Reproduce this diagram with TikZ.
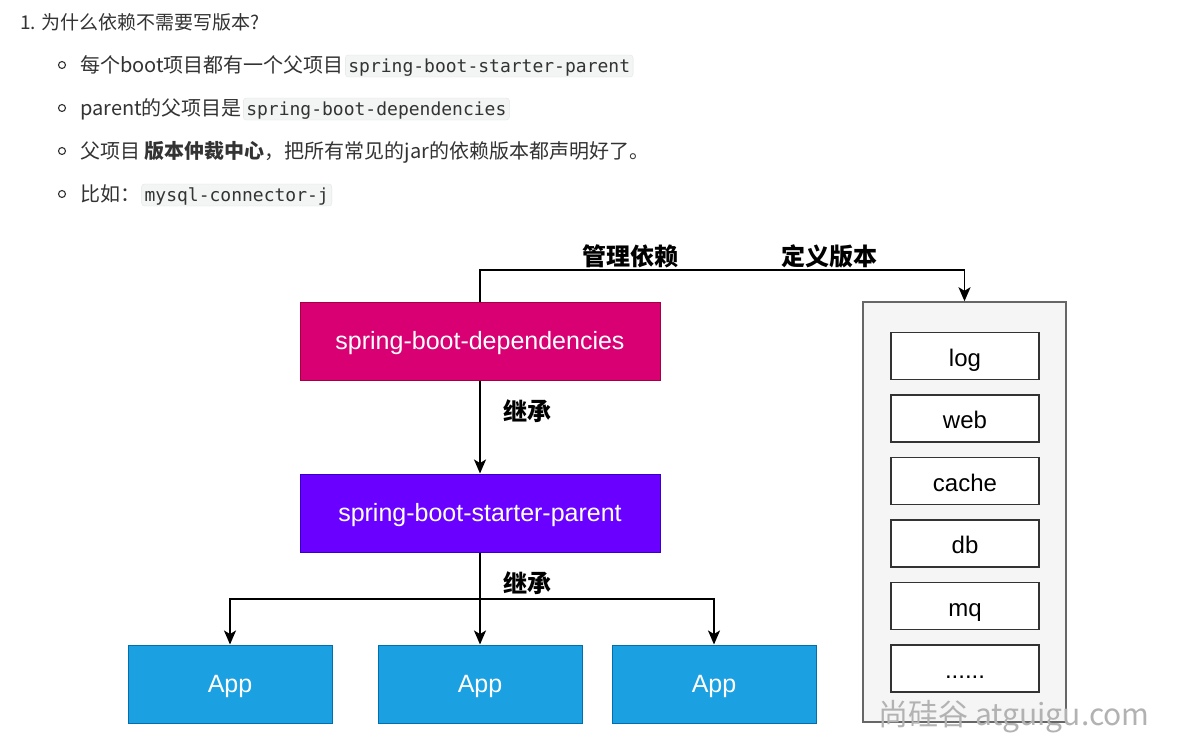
\documentclass[tikz,border=0pt]{standalone}
\usepackage{fontspec}
\usetikzlibrary{arrows.meta,calc}
\setmainfont{Liberation Sans}
\newfontfamily\cjk{Noto Sans CJK SC}
\newfontfamily\codefont{DejaVu Sans Mono}
\definecolor{txt}{HTML}{333333}
\definecolor{codebg}{HTML}{F3F4F4}
\definecolor{codeln}{HTML}{E3E6E8}
\definecolor{depc}{HTML}{D80073}
\definecolor{depl}{HTML}{A50040}
\definecolor{parc}{HTML}{6A00FF}
\definecolor{parl}{HTML}{3700CC}
\definecolor{appc}{HTML}{1BA1E2}
\definecolor{appl}{HTML}{006EAF}
\definecolor{ctrc}{HTML}{F5F5F5}
\definecolor{ctrl}{HTML}{666666}
\tikzset{
  listtxt/.style={anchor=base west, inner sep=0pt, text=txt, font=\cjk\fontsize{20}{24}\selectfont},
  code/.style={anchor=base west, fill=codebg, draw=codeln, rounded corners=3pt, inner xsep=3pt, inner ysep=2pt, text height=15pt, text depth=3pt, font=\codefont\fontsize{18}{22}\selectfont, text=txt},
  bul/.style={circle, draw=txt, line width=1.1pt, minimum size=7pt, inner sep=0pt},
  boxtext/.style={inner sep=0pt, text height=18pt, text depth=2pt, font=\fontsize{25}{29}\selectfont},
  bigbox/.style={boxtext, minimum width=360pt, minimum height=78pt, text=white, line width=1pt},
  appbox/.style={boxtext, minimum width=204pt, minimum height=78pt, text=white, fill=appc, draw=appl, line width=1pt},
  itembox/.style={boxtext, text height=20pt, text depth=0pt, minimum width=148pt, minimum height=47pt, fill=white, draw=black!80, line width=1.5pt, font=\fontsize{24}{28}\selectfont},
  lbl/.style={font=\cjk\bfseries\fontsize{24}{28}\selectfont, inner sep=0pt},
  arr/.style={line width=1.5pt, -{Stealth[length=14pt,width=12pt,inset=3.5pt]}},
  ln/.style={line width=1.5pt}
}
\begin{document}
\begin{tikzpicture}[x=1pt,y=-1pt]
\useasboundingbox[fill=white] (0,0) rectangle (1203,755);
% list
\node[listtxt, font=\cjk\fontsize{19}{23}\selectfont] (h1) at (20,29) {1. 为什么依赖不需要写版本?};
\node[bul] (b1) at (62,65) {};
\node[bul] (b2) at (62,108) {};
\node[bul] (b3) at (62,151) {};
\node[bul] (b4) at (62,194) {};
\node[listtxt] (t1) at (80,72) {每个boot项目都有一个父项目};
\node[code] (c1) at ($(t1.base east)+(1,0)$) {spring-boot-starter-parent};
\node[listtxt] (t2) at (80,115) {parent的父项目是};
\node[code] (c2) at ($(t2.base east)+(1,0)$) {spring-boot-dependencies};
\node[listtxt] (t3) at (80,158) {父项目 {\bfseries 版本仲裁中心}，把所有常见的jar的依赖版本都声明好了。};
\node[listtxt] (t4) at (80,201) {比如：};
\node[code] (c4) at ($(t4.base east)+(1,0)$) {mysql-connector-j};
% diagram
\node[bigbox, fill=depc, draw=depl] (dep) at (480,341) {spring-boot-dependencies};
\node[bigbox, fill=parc, draw=parl] (par) at (480,513) {spring-boot-starter-parent};
\node[appbox] (app1) at (230,684) {App};
\node[appbox] (app2) at (480,684) {App};
\node[appbox] (app3) at (714,684) {App};
\node[minimum width=203pt, minimum height=420pt, inner sep=0pt, fill=ctrc, draw=ctrl, line width=1.5pt] (ctr) at (964.5,512) {};
\node[itembox] (i1) at (965,356) {log};
\node[itembox] (i2) at (965,418.5) {web};
\node[itembox] (i3) at (965,481) {cache};
\node[itembox] (i4) at (965,543.5) {db};
\node[itembox] (i5) at (965,606) {mq};
\node[itembox] (i6) at (965,668.5) {......};
% connectors
\coordinate (tp) at (964.5,270);
\draw[arr] (dep.north) |- (tp) -- (ctr.north);
\node[lbl] (l1) at (630,256) {管理依赖};
\node[lbl] (l2) at (829,256) {定义版本};
\draw[arr] (dep.south) -- (par.north);
\node[lbl] (l3) at (527,411) {继承};
\coordinate (br) at (480,599);
\draw[arr] (par.south) -- (app2.north);
\draw[arr] (br) -| (app1.north);
\draw[arr] (br) -| (app3.north);
\node[lbl] (l4) at (527,583) {继承};
% watermark
\node[font=\cjk\fontsize{30}{34}\selectfont, text=black!30, inner sep=0pt] (wm) at (1014,717) {尚硅谷 atguigu.com};
\end{tikzpicture}
\end{document}
